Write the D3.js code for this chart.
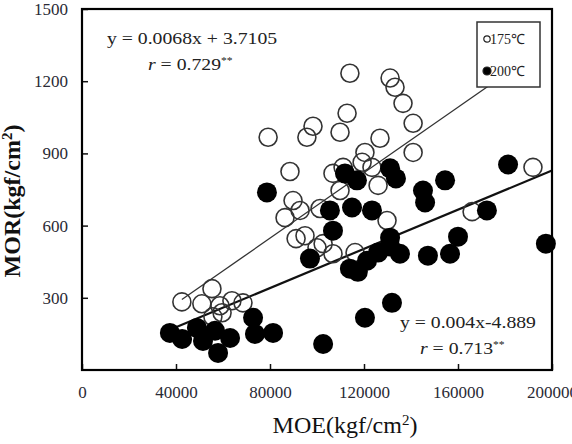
<!DOCTYPE html>
<html>
<head>
<meta charset="utf-8">
<script src="https://cdn.jsdelivr.net/npm/d3@7/dist/d3.min.js"></script>
<style>
  body { margin: 0; background: #fff; }
  svg { display: block; font-family: "Liberation Serif", "Times New Roman", serif; }
</style>
</head>
<body>
<div id="chart"></div>
<script>
// 175 C samples (MOE, MOR)
const moe175 = [42500, 55300, 51000, 58700, 63800, 68500, 55700, 59600, 79200, 88500,
  89800, 86400, 91100, 95700, 98300, 109800, 112800, 114000, 131100, 133200,
  136600, 140900, 140900, 126800, 120400, 111100, 119200, 123400, 106800, 92800,
  101300, 109800, 126000, 129800, 94900, 100000, 102600, 106800, 116200, 166000, 191900];
const mor175 = [283, 338, 275, 267, 288, 279, 221, 238, 967, 825,
  704, 633, 546, 967, 1013, 988, 1067, 1233, 1213, 1175,
  1108, 1025, 904, 963, 904, 842, 863, 842, 817, 663,
  671, 746, 767, 621, 558, 508, 525, 483, 488, 658, 842];

// 200 C samples
const moe200 = [37400, 42600, 48900, 51500, 56600, 57900, 63000, 72800, 73600, 81300,
  78700, 111900, 117000, 131100, 133600, 105500, 114900, 123400, 106800, 131100,
  97000, 114000, 117400, 121300, 126000, 131100, 135300, 147200, 156600, 160000,
  145100, 146000, 154500, 172300, 181300, 197400, 102600, 120400, 131900];
const mor200 = [154, 129, 175, 121, 163, 71, 133, 217, 150, 154,
  738, 817, 788, 838, 796, 663, 675, 663, 579, 550,
  463, 421, 408, 454, 488, 513, 483, 475, 483, 554,
  746, 696, 788, 663, 854, 525, 108, 217, 279];

// trend lines (the drawn 200 C line sits a bit above its printed equation)
const fit175 = { slope: 0.0068, intercept: 3.7105 };
const fit200 = { slope: 0.00407, intercept: 15 };

const xTicks = [0, 40000, 80000, 120000, 160000, 200000];
const yTicks = [300, 600, 900, 1200, 1500];
const seriesNames = ["175\u2103", "200\u2103"];

window.onload = function () {
  const width = 572;
  const height = 444;
  const left = 82, right = 552, top = 9, bottom = 370;

  const svg = d3
    .select("#chart")
    .append("svg")
    .attr("width", width)
    .attr("height", height);

  const x = d3.scaleLinear().domain([0, 200000]).range([left, right]);
  const y = d3.scaleLinear().domain([0, 1500]).range([bottom, top]);

  // ==== AXES ====
  const xAxis = d3
    .axisBottom(x)
    .tickValues(xTicks)
    .tickSize(-6)
    .tickPadding(16)
    .tickFormat(d3.format("d"));

  const yAxis = d3
    .axisLeft(y)
    .tickValues(yTicks)
    .tickSize(-6)
    .tickPadding(14)
    .tickFormat(d3.format("d"));

  const gx = svg
    .append("g")
    .attr("transform", `translate(0, ${bottom})`)
    .call(xAxis);
  const gy = svg
    .append("g")
    .attr("transform", `translate(${left}, 0)`)
    .call(yAxis);

  [gx, gy].forEach((g) => {
    g.select(".domain").remove();
    g.selectAll(".tick line").attr("stroke", "#111").attr("stroke-width", 1.5);
    g.selectAll(".tick text")
      .attr("fill", "#2a2a35")
      .attr("font-size", "17px")
      .attr("font-family", "Liberation Serif, serif");
  });

  // ==== TREND LINES ====
  const line = d3
    .line()
    .x((d) => x(d[0]))
    .y((d) => y(d[1]));

  const x175 = d3.extent(moe175);
  svg
    .append("path")
    .datum(x175.map((v) => [v, fit175.slope * v + fit175.intercept]))
    .attr("d", line)
    .attr("fill", "none")
    .attr("stroke", "#333")
    .attr("stroke-width", 1.3);

  const x200 = [d3.min(moe200), 200000];
  svg
    .append("path")
    .datum(x200.map((v) => [v, fit200.slope * v + fit200.intercept]))
    .attr("d", line)
    .attr("fill", "none")
    .attr("stroke", "#111")
    .attr("stroke-width", 2.2);

  // ==== POINTS ====
  svg
    .selectAll(".open")
    .data(moe175.map((v, i) => [v, mor175[i]]))
    .enter()
    .append("circle")
    .attr("cx", (d) => x(d[0]))
    .attr("cy", (d) => y(d[1]))
    .attr("r", 9)
    .attr("fill", "none")
    .attr("stroke", "#333")
    .attr("stroke-width", 1.6);

  svg
    .selectAll(".filled")
    .data(moe200.map((v, i) => [v, mor200[i]]))
    .enter()
    .append("circle")
    .attr("cx", (d) => x(d[0]))
    .attr("cy", (d) => y(d[1]))
    .attr("r", 10)
    .attr("fill", "#000");

  // ==== FRAME ====
  svg
    .append("rect")
    .attr("x", left)
    .attr("y", top)
    .attr("width", right - left)
    .attr("height", bottom - top)
    .attr("fill", "none")
    .attr("stroke", "#000")
    .attr("stroke-width", 2.2);

  // ==== EQUATIONS ====
  function equation(tx, ty, parts) {
    const t = svg
      .append("text")
      .attr("transform", `translate(${tx}, ${ty}) scale(1.16, 1)`)
      .attr("text-anchor", "start")
      .attr("font-size", "17px")
      .attr("fill", "#222");
    parts.forEach((p) => {
      const s = t.append("tspan").text(p.t);
      if (p.italic) s.attr("font-style", "italic");
      if (p.sup) s.attr("baseline-shift", "super").attr("font-size", "10px");
    });
  }

  equation(107, 44, [{ t: "y = 0.0068x + 3.7105" }]);
  equation(148, 70, [
    { t: "r", italic: true },
    { t: " = 0.729" },
    { t: "**", sup: true },
  ]);
  equation(400, 328, [{ t: "y = 0.004x-4.889" }]);
  equation(420, 354, [
    { t: "r", italic: true },
    { t: "  = 0.713" },
    { t: "**", sup: true },
  ]);

  // ==== LEGEND ====
  const legend = svg.append("g").attr("transform", "translate(477, 22)");
  legend
    .append("rect")
    .attr("width", 63)
    .attr("height", 65)
    .attr("fill", "#fff")
    .attr("stroke", "#333")
    .attr("stroke-width", 1.5);

  legend
    .selectAll(".lg")
    .data(seriesNames)
    .enter()
    .append("circle")
    .attr("cx", 10)
    .attr("cy", (d, i) => 17 + i * 32)
    .attr("r", (d, i) => (i === 0 ? 3.2 : 4))
    .attr("fill", (d, i) => (i === 0 ? "#fff" : "#000"))
    .attr("stroke", "#222")
    .attr("stroke-width", 1.2);

  legend
    .selectAll(".lt")
    .data(seriesNames)
    .enter()
    .append("text")
    .attr("x", 13)
    .attr("y", (d, i) => 22 + i * 32)
    .attr("font-size", "14px")
    .attr("fill", "#222")
    .text((d) => d);

  // ==== AXIS TITLES ====
  const yTitle = svg
    .append("text")
    .attr("transform", "translate(20, 201) rotate(-90)")
    .attr("text-anchor", "middle")
    .attr("font-size", "24px")
    .attr("font-weight", "bold")
    .attr("fill", "#111");
  yTitle.append("tspan").text("MOR(kgf/cm");
  yTitle.append("tspan").attr("baseline-shift", "super").attr("font-size", "15px").text("2");
  yTitle.append("tspan").text(")");

  const xTitle = svg
    .append("text")
    .attr("x", 345)
    .attr("y", 433)
    .attr("text-anchor", "middle")
    .attr("font-size", "24px")
    .attr("fill", "#111");
  xTitle.append("tspan").text("MOE(kgf/cm");
  xTitle.append("tspan").attr("baseline-shift", "super").attr("font-size", "15px").text("2");
  xTitle.append("tspan").text(")");
};
</script>
</body>
</html>
